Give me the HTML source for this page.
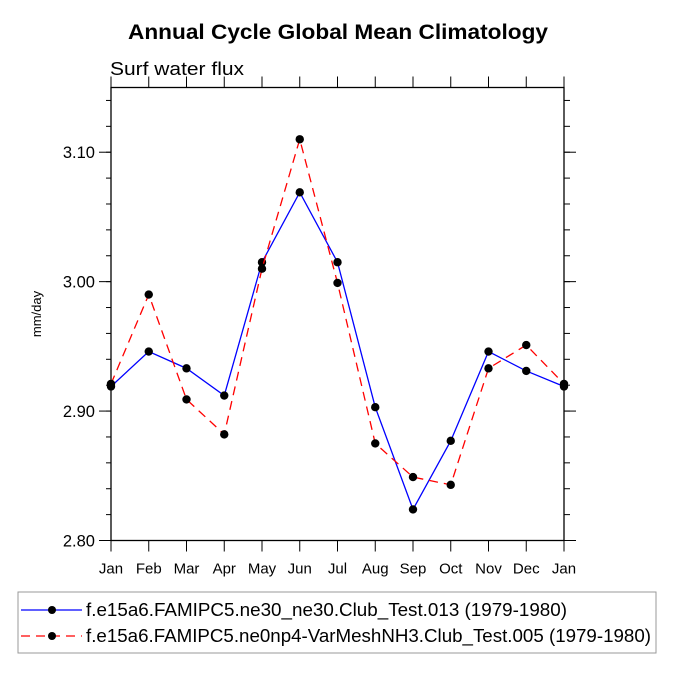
<!DOCTYPE html>
<html><head><meta charset="utf-8"><style>
body{margin:0;background:#fff}
svg text{font-family:"Liberation Sans",Helvetica,sans-serif}
</style></head><body>
<svg id="chart" width="675" height="675" xmlns="http://www.w3.org/2000/svg">
<rect width="675" height="675" fill="#fff"/>
<text x="128" y="39" font-size="21" font-weight="bold" textLength="420" lengthAdjust="spacingAndGlyphs">Annual Cycle Global Mean Climatology</text>
<text x="110" y="75" font-size="18" textLength="134" lengthAdjust="spacingAndGlyphs">Surf water flux</text>
<text transform="translate(41,314) rotate(-90)" text-anchor="middle" font-size="13">mm/day</text>
<g id="axes"></g>
<g id="series"></g>
<g id="legend">
<rect x="18" y="592" width="638" height="61" fill="none" stroke="#999" stroke-width="1"/>
<line x1="21" y1="610" x2="82" y2="610" stroke="#0000ff" stroke-width="1.3"/>
<circle cx="52" cy="610" r="4" fill="#000"/>
<text x="86" y="616" font-size="18" textLength="481" lengthAdjust="spacingAndGlyphs">f.e15a6.FAMIPC5.ne30_ne30.Club_Test.013 (1979-1980)</text>
<line x1="21" y1="636" x2="82" y2="636" stroke="#ff0000" stroke-width="1.3" stroke-dasharray="9,6"/>
<circle cx="52" cy="636" r="4" fill="#000"/>
<text x="86" y="642" font-size="18" textLength="565" lengthAdjust="spacingAndGlyphs">f.e15a6.FAMIPC5.ne0np4-VarMeshNH3.Club_Test.005 (1979-1980)</text>
</g>
</svg>
<script>
const months = ["Jan","Feb","Mar","Apr","May","Jun","Jul","Aug","Sep","Oct","Nov","Dec","Jan"];
const blueValues = [2.919,2.946,2.933,2.912,3.015,3.069,3.015,2.903,2.824,2.877,2.946,2.931,2.919];
const redValues = [2.921,2.990,2.909,2.882,3.010,3.110,2.999,2.875,2.849,2.843,2.933,2.951,2.921];
const yTicks = [2.80,2.90,3.00,3.10];
const yTickLabels = ["2.80","2.90","3.00","3.10"];
const L=111,R=564,T=87.5,B=540.5,yMin=2.80,yMax=3.15;
const NS="http://www.w3.org/2000/svg";
const xs=i=>L+(R-L)*i/(months.length-1);
const ys=v=>B-(v-yMin)/(yMax-yMin)*(B-T);
function mk(t,a,p){const e=document.createElementNS(NS,t);for(const k in a)e.setAttribute(k,a[k]);p.appendChild(e);return e;}
const ax=document.getElementById('axes');
const frame=mk('rect',{x:L,y:T,width:R-L,height:B-T,fill:'none',stroke:'#000','stroke-width':1.3},ax);


months.forEach((m,i)=>{
  const x=xs(i);
  mk('line',{x1:x,y1:B,x2:x,y2:B+11,stroke:'#000','stroke-width':1},ax);
  mk('line',{x1:x,y1:T,x2:x,y2:T-11,stroke:'#000','stroke-width':1},ax);
  const t=mk('text',{x:x,y:B+33,'text-anchor':'middle','font-size':15},ax);
  t.textContent=m;
  
  
});
for(let v=yMin;v<=yMax+1e-9;v+=0.02){
  const y=ys(v);
  mk('line',{x1:L,y1:y,x2:L-5,y2:y,stroke:'#000','stroke-width':1},ax);
  mk('line',{x1:R,y1:y,x2:R+6,y2:y,stroke:'#000','stroke-width':1},ax);
}
yTicks.forEach((v,i)=>{
  const y=ys(v);
  mk('line',{x1:L,y1:y,x2:L-12,y2:y,stroke:'#000','stroke-width':1},ax);
  mk('line',{x1:R,y1:y,x2:R+12,y2:y,stroke:'#000','stroke-width':1},ax);
  const t=mk('text',{x:L-16,y:y+6,'text-anchor':'end','font-size':16.5},ax);
  t.textContent=yTickLabels[i];
  
  
});
const sg=document.getElementById('series');
function series(vals,color,dash,name){
  const pl=mk('polyline',{points:vals.map((v,i)=>xs(i)+','+ys(v)).join(' '),fill:'none',stroke:color,'stroke-width':1.3},sg);
  if(dash)pl.setAttribute('stroke-dasharray',dash);
  
  
  vals.forEach((v,i)=>{
    const c=mk('circle',{cx:xs(i),cy:ys(v),r:4.2,fill:'#000'},sg);
    
    
  });
}
series(blueValues,'#0000ff',null,'blue-series');
series(redValues,'#ff0000','9,6','red-series');
</script>
</body></html>
